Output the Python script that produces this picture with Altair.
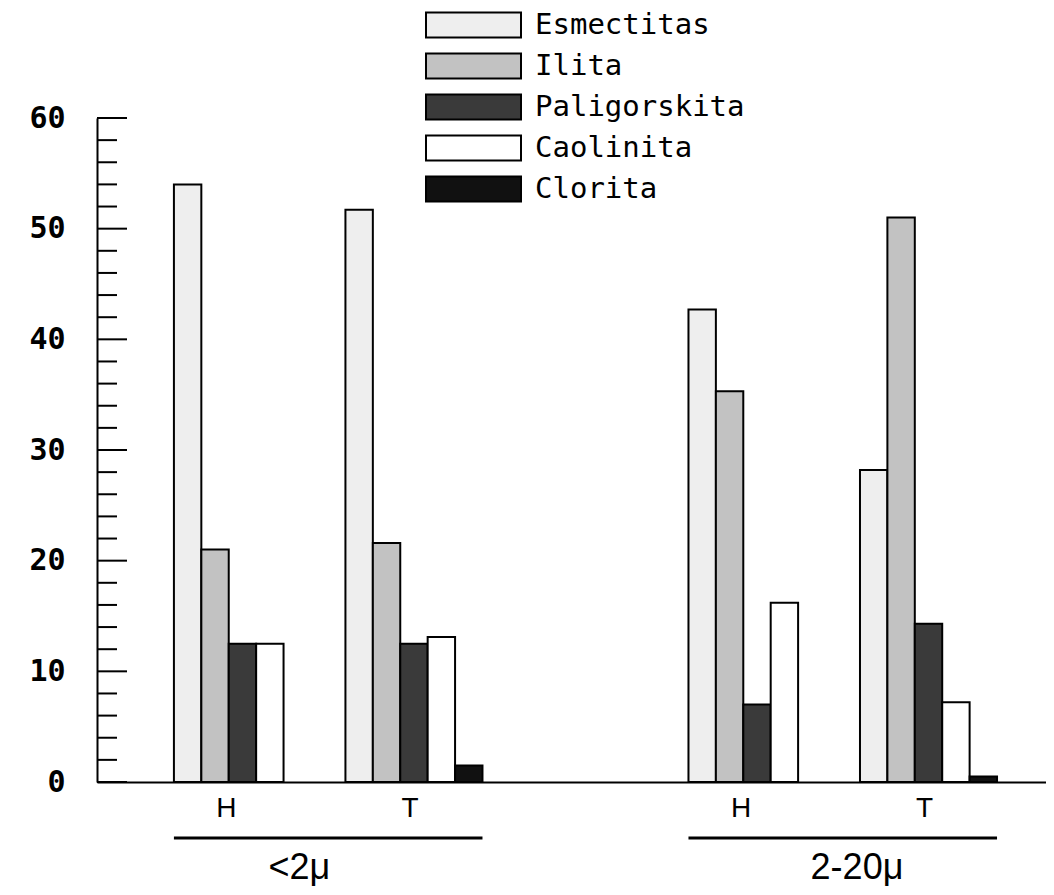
import altair as alt
import pandas as pd

minerals = ["Esmectitas", "Ilita", "Paligorskita", "Caolinita", "Clorita"]
fills = ["#eeeeee", "#c2c2c2", "#3a3a3a", "#ffffff", "#111111"]

fractions = ["<2μ", "<2μ", "2-20μ", "2-20μ"]
samples = ["H", "T", "H", "T"]
sample_keys = ["<2μ H", "<2μ T", "2-20μ H", "2-20μ T"]

values = [
    [54.0, 21.0, 12.5, 12.5, 0.0],   # <2μ H
    [51.7, 21.6, 12.5, 13.1, 1.5],   # <2μ T
    [42.7, 35.3, 7.0, 16.2, 0.0],    # 2-20μ H
    [28.2, 51.0, 14.3, 7.2, 0.5],    # 2-20μ T
]

major_ticks = [0, 10, 20, 30, 40, 50, 60]
minor_ticks = [2, 4, 6, 8, 12, 14, 16, 18, 22, 24, 26, 28, 32, 34, 36, 38,
               42, 44, 46, 48, 52, 54, 56, 58]

group_labels = ["<2μ", "2-20μ"]
group_start = ["<2μ H", "2-20μ H"]
group_end = ["<2μ T", "2-20μ T"]

rows = []
for key, vals in zip(sample_keys, values):
    for m, v in zip(minerals, vals):
        if v > 0:
            rows.append({"sample": key, "mineral": m, "value": v})
df = pd.DataFrame(rows)

x_domain = [sample_keys[0], sample_keys[1], "gap", sample_keys[2], sample_keys[3]]
x_scale = alt.Scale(domain=x_domain, paddingInner=0.201, paddingOuter=0.367, align=0.611)
y_scale = alt.Scale(domain=[0, 60], nice=False, zero=True)

x_axis = alt.Axis(
    title=None, ticks=False, grid=False, domain=True, domainColor="black", domainWidth=2,
    labelExpr="datum.value == 'gap' ? '' : split(datum.value, ' ')[1]",
    labelFont="Liberation Sans", labelFontSize=28, labelColor="black",
    labelPadding=12, labelAngle=0,
    labelOffset={"condition": {"test": "indexof(datum.value, 'H') >= 0", "value": -16}, "value": -4},
)
y_axis = alt.Axis(
    title=None, ticks=False, grid=False, domain=True, domainColor="black", domainWidth=2,
    values=major_ticks, labelFont="DejaVu Sans Mono", labelFontSize=30, labelFontWeight="bold",
    labelColor="black", labelPadding=32,
)

bars = alt.Chart(df).mark_bar(stroke="black", strokeWidth=2, opacity=1).encode(
    x=alt.X("sample:N", scale=x_scale, axis=x_axis, sort=x_domain),
    xOffset=alt.XOffset("mineral:N", sort=minerals,
                        scale=alt.Scale(domain=minerals, paddingInner=0, paddingOuter=0)),
    y=alt.Y("value:Q", scale=y_scale, axis=y_axis),
    fill=alt.Fill(
        "mineral:N", sort=minerals,
        scale=alt.Scale(domain=minerals, range=fills),
        legend=alt.Legend(
            title=None, orient="none", legendX=328, legendY=-110, padding=0,
            symbolType="M-1,-0.263L1,-0.263L1,0.263L-1,0.263Z", symbolSize=9025,
            symbolStrokeColor="black", symbolStrokeWidth=2, symbolOpacity=1,
            labelFont="DejaVu Sans Mono", labelFontSize=29, labelColor="black",
            labelOffset=13, rowPadding=7, clipHeight=34, labelLimit=400,
        ),
    ),
)

major_df = pd.DataFrame({"v": major_ticks})
minor_df = pd.DataFrame({"v": minor_ticks})

major_rules = alt.Chart(major_df).mark_rule(color="black", strokeWidth=2).encode(
    y=alt.Y("v:Q", scale=y_scale, axis=y_axis),
    x=alt.value(0), x2=alt.value(30),
)
minor_rules = alt.Chart(minor_df).mark_rule(color="black", strokeWidth=2).encode(
    y=alt.Y("v:Q", scale=y_scale, axis=y_axis),
    x=alt.value(0), x2=alt.value(20),
)

gdf = pd.DataFrame({"label": group_labels, "start": group_start, "end": group_end})

underline = alt.Chart(gdf).mark_rule(color="black", strokeWidth=3).encode(
    x=alt.X("start:N", scale=x_scale, axis=x_axis, bandPosition=0),
    x2=alt.X2("end:N", bandPosition=1),
    y=alt.value(720),
)

texts = []
for lab, dx in zip(group_labels, [-46, -3]):
    t = alt.Chart(gdf).transform_filter(alt.datum.label == lab).mark_text(
        font="Liberation Sans", fontSize=36, color="black",
        align="center", baseline="middle", dx=dx,
    ).encode(
        x=alt.X("end:N", scale=x_scale, axis=x_axis, bandPosition=0),
        y=alt.value(750),
        text="label:N",
    )
    texts.append(t)

chart = alt.layer(bars, major_rules, minor_rules, underline, *texts).properties(
    width=949, height=664,
    padding={"left": 89, "top": 110, "right": 0, "bottom": 105},
    autosize=alt.AutoSizeParams(type="none"),
    background="white",
).configure_view(stroke=None)

chart.save("out.html", embed_options={"renderer": "svg", "actions": False})
